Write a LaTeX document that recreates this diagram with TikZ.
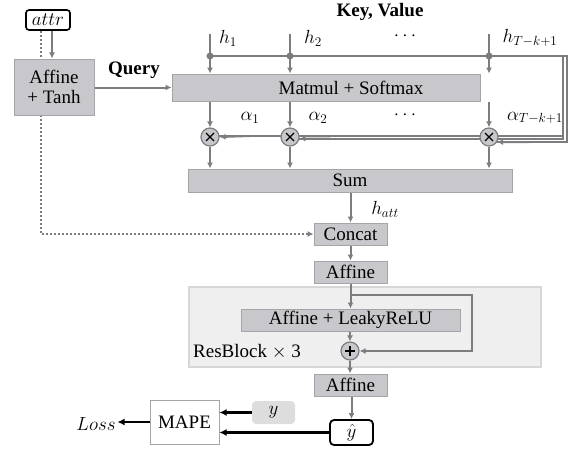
\RequirePackage{fix-cm}
\documentclass[tikz,border=0pt]{standalone}
\usepackage{fontspec}
\setmainfont{Liberation Serif}
\usetikzlibrary{arrows.meta,calc,backgrounds}
\definecolor{boxgray}{RGB}{200,200,204}
\definecolor{bordergray}{RGB}{165,165,168}
\definecolor{linegray}{RGB}{125,125,128}
\definecolor{resbg}{RGB}{239,239,239}
\definecolor{resborder}{RGB}{215,215,215}
\definecolor{ygray}{RGB}{221,221,221}
\begin{document}
\begin{tikzpicture}[x=1pt,y=-1pt,
  font=\fontsize{19}{22}\selectfont,
  gbox/.style={draw=bordergray,fill=boxgray,line width=1pt,inner sep=0pt,minimum width=#1},
  gbox/.default=73pt,
  opcirc/.style={circle,draw=linegray,fill=boxgray,line width=1.2pt,minimum size=18pt,inner sep=0pt},
  garrow/.style={draw=linegray,line width=2pt,-{Latex[length=6pt,width=6pt]}},
  gline/.style={draw=linegray,line width=2pt},
  barrow/.style={draw=black,line width=2.4pt,-{Latex[length=7pt,width=7pt]}},
  gdot/.style={circle,fill=linegray,inner sep=0pt,minimum size=7pt},
  lbl/.style={inner sep=0pt}
]
\useasboundingbox (0,0) rectangle (572,452);

% ResBlock background
\node[draw=resborder,fill=resbg,line width=1.5pt,minimum width=352pt,minimum height=80pt,inner sep=0pt] (resbg) at (365,327) {};

% nodes
\node[draw=black,line width=1.6pt,rounded corners=3pt,minimum width=44pt,minimum height=20pt,inner sep=0pt] (attr) at (48,20) {$attr$};
\node[gbox=80pt,minimum height=56pt,align=center] (aff1) at (54,87) {Affine\\[-2pt]+ Tanh};
\node[gbox=308pt,minimum height=27pt] (matmul) at (326,87.5) {};
\node[lbl] (mattext) at (351,88) {Matmul + Softmax};
\node[gbox=324pt,minimum height=23pt] (sum) at (350,180.5) {Sum};
\node[gbox,minimum height=22pt] (concat) at (350.5,234) {Concat};
\node[gbox,minimum height=22pt] (aff2) at (350.5,272) {Affine};
\node[gbox=219pt,minimum height=22pt] (leaky) at (350.5,320) {Affine + LeakyReLU};
\node[gbox,minimum height=22pt] (aff3) at (350.5,385) {Affine};
\node[draw=black,line width=1.8pt,rounded corners=4pt,minimum width=43pt,minimum height=25pt,inner sep=0pt] (yhat) at (351.5,432.5) {$\hat{y}$};
\node[fill=ygray,rounded corners=4pt,minimum width=43pt,minimum height=23pt,inner sep=0pt] (ybox) at (273.5,412.5) {$y$};
\node[draw=bordergray,fill=white,line width=1pt,minimum width=69pt,minimum height=44pt,inner sep=0pt] (mape) at (184.5,422) {MAPE};
\node[lbl] (loss) at (96,424) {$Loss$};

% labels
\node[lbl,font=\fontsize{19}{22}\selectfont\bfseries] (query) at (134,70) {Query};
\node[lbl,font=\fontsize{19}{22}\selectfont\bfseries] (kv) at (380,12) {Key, Value};
\node[lbl] (lh1) at (228,38) {$h_1$};
\node[lbl] (lh2) at (313,38) {$h_2$};
\node[lbl] (ldots1) at (405,36) {$\cdots$};
\node[lbl] (lhT) at (530,38) {$h_{T-k+1}$};
\node[lbl] (la1) at (250,118) {$\alpha_1$};
\node[lbl] (la2) at (318,118) {$\alpha_2$};
\node[lbl] (ldots2) at (405,115) {$\cdots$};
\node[lbl] (laT) at (535,118) {$\alpha_{T-k+1}$};
\node[lbl] (lhatt) at (385,209) {$h_{att}$};
\node[lbl] (lres) at (247,352) {ResBlock $\times$ 3};

% coordinates
\coordinate (h1top) at (210,34);
\coordinate (h2top) at (290,34);
\coordinate (hTtop) at (489,34);
\coordinate (d1) at (210,56);
\coordinate (d2) at (290,56);
\coordinate (dT) at (489,56);
\coordinate (rA) at (567,56);
\coordinate (rB) at (563,56);
\coordinate (att1) at (41,234);
\coordinate (skip) at (472,295);

% multiply circles positions
\path (210,137) coordinate (c1) (290,137) coordinate (c2) (489,137) coordinate (cT);

% dotted attr path (behind boxes)
\begin{scope}[on background layer]
\draw[draw=linegray,line width=2pt,dash pattern=on 2pt off 2pt,-{Latex[length=6pt,width=6pt]}]
  (attr.south -| att1) -- (att1) -- (concat.west);
\end{scope}
\draw[garrow] (attr.south -| 52,0) -- (aff1.north -| 52,0);
\draw[garrow] (aff1.east |- matmul.west) -- (matmul.west);

% h inputs
\draw[gline] (d1) -- (rA) -- (rA |- 0,142) -- (cT |- 0,142);
\draw[gline] (rB) -- (rB |- 0,138.5) -- (c2 |- 0,138.5);
\draw[gline] (rB |- 0,136) -- (c1 |- 0,136);

\node[opcirc] (m1) at (c1) {};
\node[opcirc] (m2) at (c2) {};
\node[opcirc] (mT) at (cT) {};
\foreach \m in {m1,m2,mT}{
  \draw[black,line width=1.2pt] ($(\m)+(-4,-4)$) -- ($(\m)+(4,4)$) ($(\m)+(-4,4)$) -- ($(\m)+(4,-4)$);
}
\draw[garrow] ($(mT)+(40,5)$) -- (mT.-32);
\draw[garrow] ($(m2)+(40,1.5)$) -- (m2.-10);
\draw[garrow] ($(m1)+(40,-1)$) -- (m1.east);

\foreach \t/\d in {h1top/d1,h2top/d2,hTtop/dT}{
  \draw[garrow] (\t) -- (\t |- matmul.north);
  \node[gdot] at (\d) {};
}
\foreach \m in {m1,m2,mT}{
  \draw[garrow] (matmul.south -| \m) -- (\m.north);
  \draw[garrow] (\m.south) -- (sum.north -| \m);
}

\draw[garrow] (sum.south -| concat) -- (concat.north);
\draw[garrow] (concat) -- (aff2);
\draw[garrow] (aff2.south) -- (leaky.north);
\node[opcirc] (plus) at (350,351) {};
\draw[black,line width=1.2pt] ($(plus)+(-5,0)$) -- ($(plus)+(5,0)$) ($(plus)+(0,-5)$) -- ($(plus)+(0,5)$);
\draw[garrow] (aff2.south |- skip) -- (skip) -- (skip |- plus) -- (plus.east);
\draw[garrow] (leaky.south -| plus) -- (plus.north);
\draw[garrow] (plus.south) -- (aff3.north -| plus);
\draw[garrow] (aff3.south -| yhat) -- (yhat.north);

\draw[barrow] (ybox.west) -- (mape.east |- ybox.west);
\draw[barrow] (yhat.west) -- (mape.east |- yhat.west);
\draw[barrow] (mape.west) -- ++(-32,0) coordinate (lossend);
\end{tikzpicture}
\end{document}
